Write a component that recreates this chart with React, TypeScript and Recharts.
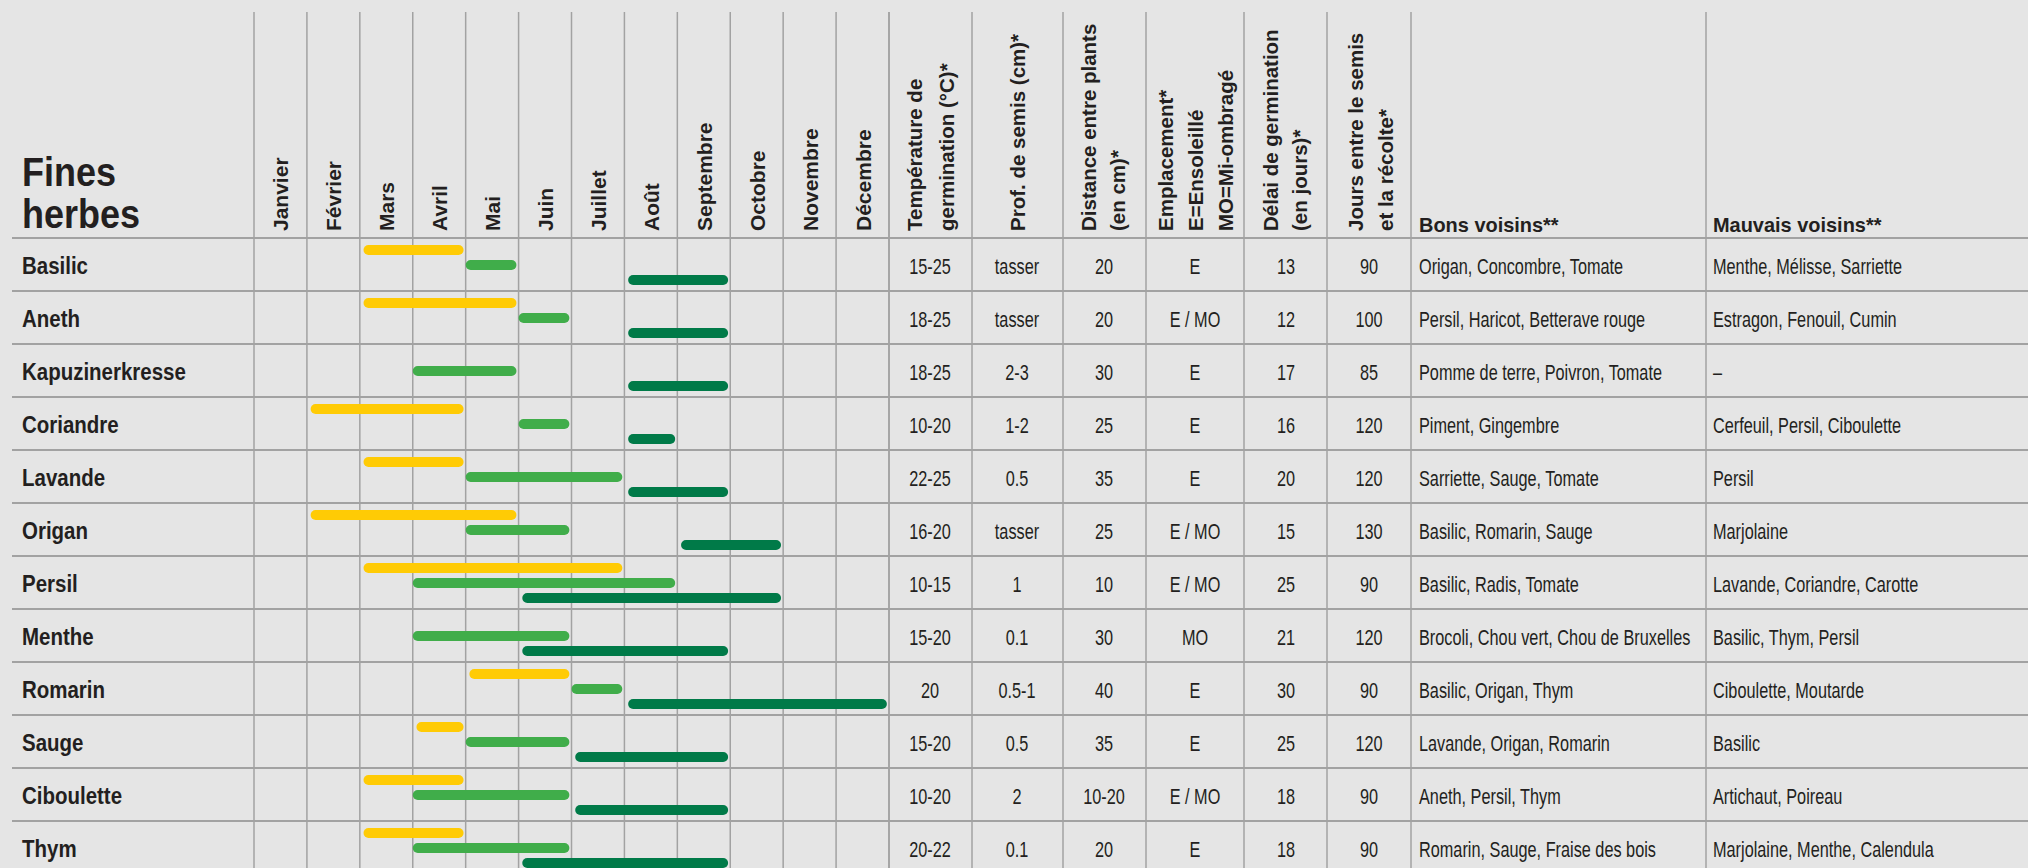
import { BarChart, Bar, XAxis, YAxis, CartesianGrid, Customized } from 'recharts'

// herbs and months (rows / columns of the calendar)
const herbs = ['Basilic', 'Aneth', 'Kapuzinerkresse', 'Coriandre', 'Lavande', 'Origan', 'Persil', 'Menthe', 'Romarin', 'Sauge', 'Ciboulette', 'Thym']
const months = ['Janvier', 'Février', 'Mars', 'Avril', 'Mai', 'Juin', 'Juillet', 'Août', 'Septembre', 'Octobre', 'Novembre', 'Décembre']
const monthTicks = [0, 1, 2, 3, 4, 5, 6, 7, 8, 9, 10, 11, 12]

// month ranges [start, end) — Jan = 0
const semisInterieur: ([number, number] | null)[] = [[2, 4], [2, 5], null, [1, 4], [2, 4], [1, 5], [2, 7], null, [4, 6], [3, 4], [2, 4], [2, 4]]
const semisExterieur: ([number, number] | null)[] = [[4, 5], [5, 6], [3, 5], [5, 6], [4, 7], [4, 6], [3, 8], [3, 6], [6, 7], [4, 6], [3, 6], [3, 6]]
const recolte: ([number, number] | null)[] = [[7, 9], [7, 9], [7, 9], [7, 8], [7, 9], [8, 10], [5, 10], [5, 9], [7, 12], [6, 9], [6, 9], [5, 9]]

// table columns
const temperature = ['15-25', '18-25', '18-25', '10-20', '22-25', '16-20', '10-15', '15-20', '20', '15-20', '10-20', '20-22']
const profondeur = ['tasser', 'tasser', '2-3', '1-2', '0.5', 'tasser', '1', '0.1', '0.5-1', '0.5', '2', '0.1']
const distance = ['20', '20', '30', '25', '35', '25', '10', '30', '40', '35', '10-20', '20']
const emplacement = ['E', 'E / MO', 'E', 'E', 'E', 'E / MO', 'E / MO', 'MO', 'E', 'E', 'E / MO', 'E']
const delai = ['13', '12', '17', '16', '20', '15', '25', '21', '30', '25', '18', '18']
const jours = ['90', '100', '85', '120', '120', '130', '90', '120', '90', '120', '90', '90']
const bonsVoisins = [
  'Origan, Concombre, Tomate', 'Persil, Haricot, Betterave rouge', 'Pomme de terre, Poivron, Tomate', 'Piment, Gingembre',
  'Sarriette, Sauge, Tomate', 'Basilic, Romarin, Sauge', 'Basilic, Radis, Tomate', 'Brocoli, Chou vert, Chou de Bruxelles',
  'Basilic, Origan, Thym', 'Lavande, Origan, Romarin', 'Aneth, Persil, Thym', 'Romarin, Sauge, Fraise des bois',
]
const mauvaisVoisins = [
  'Menthe, Mélisse, Sarriette', 'Estragon, Fenouil, Cumin', '–', 'Cerfeuil, Persil, Ciboulette',
  'Persil', 'Marjolaine', 'Lavande, Coriandre, Carotte', 'Basilic, Thym, Persil',
  'Ciboulette, Moutarde', 'Basilic', 'Artichaut, Poireau', 'Marjolaine, Menthe, Calendula',
]

// layout
const W = 2028
const H = 868
const LEFT = 254
const RIGHT_EDGE = 889
const HEADER = 238
const ROW_H = 53
const COL_W = (RIGHT_EDGE - LEFT) / 12
const LINE = '#a2a2a2'
const INK = '#231f20'
const FONT = "'Liberation Sans', Arial, sans-serif"

const tableLines = [889, 972, 1063, 1146, 1244, 1327, 1411, 1706]
const centered = [
  { x: 930, values: temperature },
  { x: 1017, values: profondeur },
  { x: 1104, values: distance },
  { x: 1195, values: emplacement },
  { x: 1286, values: delai },
  { x: 1369, values: jours },
]
const headers = [
  { x: [922, 954], lines: ['Température de', 'germination (°C)*'] },
  { x: [1025], lines: ['Prof. de semis (cm)*'] },
  { x: [1096, 1125], lines: ['Distance entre plants', '(en cm)*'] },
  { x: [1173, 1203, 1233], lines: ['Emplacement*', 'E=Ensoleillé', 'MO=Mi-ombragé'] },
  { x: [1278, 1307], lines: ['Délai de germination', '(en jours)*'] },
  { x: [1363, 1393], lines: ['Jours entre le semis', 'et la récolte*'] },
]

const span = (r: [number, number] | null, inset: number) => (r ? [r[0] + inset, r[1] - 0.04] : null)

const data = herbs.map((name, i) => ({
  name,
  interieur: span(semisInterieur[i], 0.07),
  exterieur: span(semisExterieur[i], 0),
  recolte: span(recolte[i], 0.07),
}))

function CText({ x, y, sx = 1, size, weight = 400, anchor = 'start', children }: any) {
  return (
    <text
      transform={`translate(${x},${y}) scale(${sx},1)`}
      textAnchor={anchor}
      fontSize={size}
      fontWeight={weight}
      fontFamily={FONT}
      fill={INK}
    >
      {children}
    </text>
  )
}

function VText({ x, y, size = 21, children }: any) {
  return (
    <text transform={`translate(${x},${y}) rotate(-90)`} fontSize={size} fontWeight={700} fontFamily={FONT} fill={INK}>
      {children}
    </text>
  )
}

const MonthTick = ({ x, payload }: any) => {
  const v = payload.value
  return (
    <g>
      <line x1={x} x2={x} y1={12} y2={HEADER} stroke={LINE} strokeWidth={1.5} />
      {v < 12 && <VText x={x + COL_W / 2 + 8} y={231}>{months[v]}</VText>}
    </g>
  )
}

const RowTick = ({ y, index }: any) => {
  const top = y - ROW_H / 2
  const base = y + 9
  return (
    <g>
      <line x1={12} x2={W} y1={top} y2={top} stroke={LINE} strokeWidth={2} />
      <CText x={22} y={base} sx={0.89} size={23} weight={700}>{herbs[index]}</CText>
      {centered.map((c, k) => (
        <CText key={k} x={c.x} y={base} sx={0.74} size={22} anchor="middle">{c.values[index]}</CText>
      ))}
      <CText x={1419} y={base} sx={0.74} size={22}>{bonsVoisins[index]}</CText>
      <CText x={1713} y={base} sx={0.74} size={22}>{mauvaisVoisins[index]}</CText>
    </g>
  )
}

const TableFrame = () => (
  <g>
    {tableLines.map((x) => (
      <line key={x} x1={x} x2={x} y1={12} y2={H} stroke={LINE} strokeWidth={1.5} />
    ))}
    <CText x={22} y={186} sx={0.9} size={40} weight={700}>Fines</CText>
    <CText x={22} y={228} sx={0.9} size={40} weight={700}>herbes</CText>
    {headers.map((h, i) =>
      h.lines.map((t, k) => <VText key={`${i}-${k}`} x={h.x[k]} y={231} size={20.5}>{t}</VText>)
    )}
    <CText x={1419} y={232} sx={0.95} size={21} weight={700}>Bons voisins**</CText>
    <CText x={1713} y={232} sx={0.95} size={21} weight={700}>Mauvais voisins**</CText>
  </g>
)

export default function App() {
  return (
    <div style={{ position: 'absolute', left: 0, top: 0, width: W, height: H, overflow: 'hidden', background: '#e5e5e5' }}>
      <BarChart
        width={W}
        height={HEADER + ROW_H * herbs.length}
        data={data}
        layout="vertical"
        margin={{ top: 0, right: W - RIGHT_EDGE, bottom: 0, left: 0 }}
        barSize={10}
        barGap={5}
      >
        <CartesianGrid horizontal={false} stroke={LINE} strokeWidth={1.5} strokeDasharray="" />
        <XAxis
          type="number"
          orientation="top"
          domain={[0, 12]}
          ticks={monthTicks}
          interval={0}
          height={HEADER}
          axisLine={false}
          tickLine={false}
          tick={<MonthTick />}
        />
        <YAxis
          type="category"
          dataKey="name"
          width={LEFT}
          interval={0}
          axisLine={false}
          tickLine={false}
          tick={<RowTick />}
        />
        <Bar dataKey="interieur" fill="#ffcb05" radius={5} isAnimationActive={false} />
        <Bar dataKey="exterieur" fill="#40ad4a" radius={5} isAnimationActive={false} />
        <Bar dataKey="recolte" fill="#007a48" radius={5} isAnimationActive={false} />
        <Customized component={<TableFrame />} />
      </BarChart>
    </div>
  )
}
